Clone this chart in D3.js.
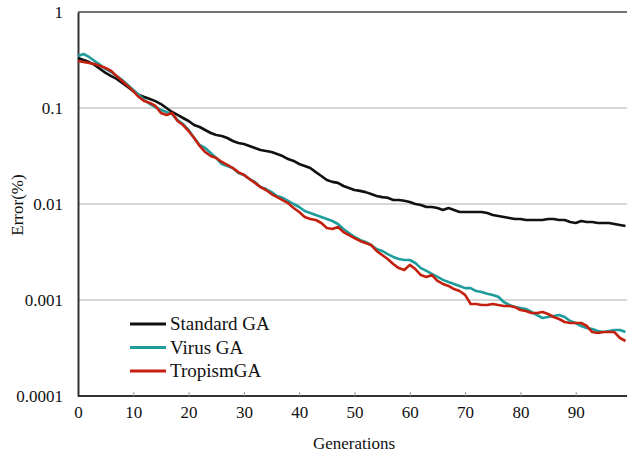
<!DOCTYPE html>
<html>
<head>
<meta charset="utf-8">
<script src="https://cdn.jsdelivr.net/npm/d3@7"></script>
<style>
  body { margin: 0; background: #fff; }
  svg text { font-family: "Liberation Serif", "Times New Roman", "DejaVu Serif", serif !important; fill: #111; }
</style>
</head>
<body>
<div id="chart"></div>
<script>
// generations 0..99
var generations = d3.range(0, 100);

var standardGA = [
  0.332, 0.316, 0.301, 0.281, 0.255, 0.232, 0.215, 0.201, 0.182, 0.166,
  0.150, 0.137, 0.130, 0.124, 0.118, 0.110, 0.100, 0.0909, 0.0846, 0.0787,
  0.0732, 0.0665, 0.0634, 0.0590, 0.0549, 0.0523, 0.0511, 0.0487, 0.0453, 0.0432,
  0.0422, 0.0402, 0.0383, 0.0365, 0.0357, 0.0348, 0.0332, 0.0316, 0.0294, 0.0281,
  0.0261, 0.0249, 0.0237, 0.0215, 0.0196, 0.0178, 0.0170, 0.0166, 0.0154, 0.0147,
  0.0140, 0.0137, 0.0133, 0.0127, 0.0121, 0.0118, 0.0116, 0.0110, 0.0110, 0.0108,
  0.0105, 0.0100, 0.00976, 0.00931, 0.00931, 0.00909, 0.00866, 0.00909, 0.00866, 0.00825,
  0.00825, 0.00825, 0.00825, 0.00825, 0.00806, 0.00768, 0.00750, 0.00732, 0.00715, 0.00698,
  0.00698, 0.00681, 0.00681, 0.00681, 0.00681, 0.00698, 0.00698, 0.00681, 0.00681, 0.00649,
  0.00634, 0.00665, 0.00649, 0.00649, 0.00634, 0.00634, 0.00634, 0.00619, 0.00604, 0.00590
];

var virusGA = [
  0.348, 0.365, 0.340, 0.309, 0.281, 0.255, 0.237, 0.215, 0.196, 0.174,
  0.154, 0.137, 0.121, 0.110, 0.102, 0.0953, 0.0909, 0.0866, 0.0750, 0.0681,
  0.0590, 0.0487, 0.0412, 0.0383, 0.0340, 0.0301, 0.0261, 0.0249, 0.0237, 0.0210,
  0.0201, 0.0182, 0.0170, 0.0150, 0.0143, 0.0133, 0.0121, 0.0116, 0.0108, 0.0100,
  0.00931, 0.00846, 0.00806, 0.00768, 0.00732, 0.00698, 0.00665, 0.00619, 0.00549, 0.00499,
  0.00453, 0.00422, 0.00402, 0.00374, 0.00340, 0.00324, 0.00301, 0.00281, 0.00267, 0.00261,
  0.00261, 0.00243, 0.00215, 0.00201, 0.00187, 0.00174, 0.00162, 0.00154, 0.00147, 0.00140,
  0.00133, 0.00133, 0.00124, 0.00121, 0.00116, 0.00113, 0.00108, 0.000953, 0.000887, 0.000846,
  0.000825, 0.000806, 0.000750, 0.000698, 0.000649, 0.000665, 0.000681, 0.000698, 0.000665, 0.000604,
  0.000576, 0.000536, 0.000511, 0.000499, 0.000475, 0.000464, 0.000475, 0.000487, 0.000487, 0.000464
];

var tropismGA = [
  0.309, 0.301, 0.294, 0.287, 0.274, 0.261, 0.243, 0.215, 0.191, 0.170,
  0.150, 0.130, 0.118, 0.113, 0.105, 0.0887, 0.0846, 0.0887, 0.0732, 0.0665,
  0.0576, 0.0487, 0.0402, 0.0348, 0.0316, 0.0301, 0.0274, 0.0255, 0.0237, 0.0215,
  0.0201, 0.0182, 0.0166, 0.0150, 0.0140, 0.0127, 0.0118, 0.0110, 0.0102, 0.00909,
  0.00825, 0.00732, 0.00698, 0.00681, 0.00634, 0.00562, 0.00549, 0.00576, 0.00511, 0.00475,
  0.00442, 0.00412, 0.00392, 0.00374, 0.00324, 0.00294, 0.00267, 0.00237, 0.00215, 0.00205,
  0.00232, 0.00210, 0.00182, 0.00174, 0.00182, 0.00158, 0.00147, 0.00140, 0.00130, 0.00124,
  0.00113, 0.000909, 0.000909, 0.000887, 0.000887, 0.000909, 0.000887, 0.000866, 0.000866, 0.000846,
  0.000787, 0.000768, 0.000732, 0.000732, 0.000750, 0.000715, 0.000665, 0.000634, 0.000590, 0.000576,
  0.000576, 0.000576, 0.000536, 0.000464, 0.000453, 0.000464, 0.000464, 0.000464, 0.000402, 0.000374
];

var seriesNames = ["Standard GA", "Virus GA", "TropismGA"];
var seriesColors = ["#111111", "#1f9c9c", "#c42010"];
var xTicks = [0, 10, 20, 30, 40, 50, 60, 70, 80, 90];
var yTicks = [0.0001, 0.001, 0.01, 0.1, 1];
var yTickLabels = ["0.0001", "0.001", "0.01", "0.1", "1"];

var width = 627, height = 457;
var margin = { top: 12, left: 78, bottom: 61 };
var fontSize = "17px";

var svg = d3.select("#chart")
    .append("svg")
    .attr("width", width)
    .attr("height", height);

var xScale = d3.scaleLinear()
    .domain([0, 100])
    .range([margin.left, margin.left + 553]);

var yScale = d3.scaleLog()
    .domain([0.0001, 1])
    .range([height - margin.bottom, margin.top]);

// gridlines
svg.append("g")
    .selectAll("line")
    .data([0.001, 0.01, 0.1])
    .enter()
    .append("line")
    .attr("x1", margin.left)
    .attr("x2", width)
    .attr("y1", function(d) { return yScale(d); })
    .attr("y2", function(d) { return yScale(d); })
    .style("stroke", "#c8c8c8")
    .style("stroke-width", 1.5);

// top line at 1
svg.append("line")
    .attr("x1", margin.left)
    .attr("x2", width)
    .attr("y1", yScale(1))
    .attr("y2", yScale(1))
    .style("stroke", "#444")
    .style("stroke-width", 1.5);

// x axis
var xAxis = svg.append("g")
    .attr("transform", "translate(0," + yScale(0.0001) + ")")
    .call(d3.axisBottom(xScale).tickValues(xTicks).tickSizeInner(-4).tickSizeOuter(0).tickPadding(10));
xAxis.attr("font-family", null).attr("font-size", null);
xAxis.select(".domain").attr("d", "M" + margin.left + ",0H" + width).style("stroke", "#333").style("stroke-width", 2);
xAxis.selectAll(".tick line").style("stroke", "#999");
xAxis.selectAll(".tick").filter(function(d) { return d === 0; }).select("line").remove();
xAxis.selectAll(".tick text")
    .style("font-size", fontSize)
    .style("fill", "#111");

// y axis
var yAxis = svg.append("g")
    .attr("transform", "translate(" + margin.left + ",0)")
    .call(d3.axisLeft(yScale).tickValues(yTicks)
        .tickFormat(function(d, i) { return yTickLabels[i]; })
        .tickSize(0).tickPadding(15));
yAxis.attr("font-family", null).attr("font-size", null);
yAxis.select(".domain").style("stroke", "#333").style("stroke-width", 2);
yAxis.selectAll(".tick text")
    .style("font-size", fontSize)
    .style("fill", "#111");

// lines
var line = d3.line()
    .x(function(d, i) { return xScale(generations[i]); })
    .y(function(d) { return yScale(d); });

[standardGA, virusGA, tropismGA].forEach(function(s, i) {
    svg.append("path")
        .datum(s)
        .attr("d", line)
        .style("fill", "none")
        .style("stroke", seriesColors[i])
        .style("stroke-width", 2.6)
        .style("stroke-linejoin", "round");
});

// axis titles
svg.append("text")
    .attr("x", 354)
    .attr("y", 449)
    .attr("text-anchor", "middle")
    .style("font-size", fontSize)
    .text("Generations");

svg.append("text")
    .attr("transform", "translate(23,205) rotate(-90)")
    .attr("text-anchor", "middle")
    .style("font-size", fontSize)
    .text("Error(%)");

// legend
var legend = svg.append("g").attr("transform", "translate(130,324)");
seriesNames.forEach(function(name, i) {
    legend.append("line")
        .attr("x1", 0).attr("x2", 36)
        .attr("y1", i * 23.5).attr("y2", i * 23.5)
        .style("stroke", seriesColors[i])
        .style("stroke-width", 3);
    legend.append("text")
        .attr("x", 40)
        .attr("y", i * 23.5 + 6)
        .style("font-size", "19px")
        .text(name);
});
</script>
</body>
</html>
